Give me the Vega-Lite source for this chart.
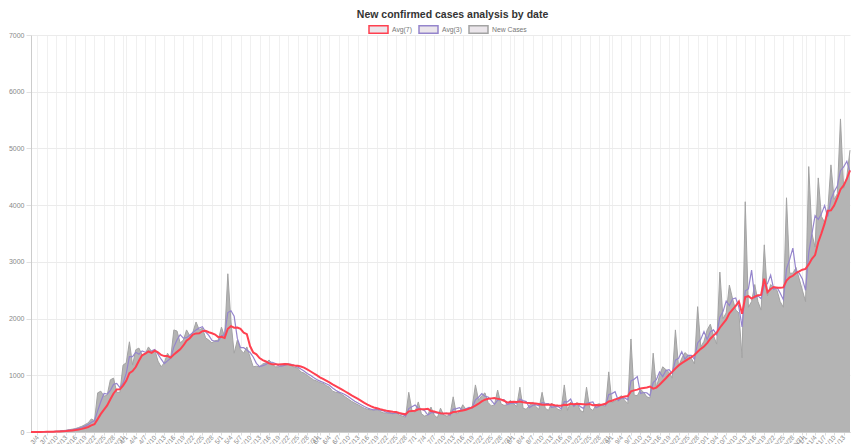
{
"$schema": "https://vega.github.io/schema/vega-lite/v6.json",
"width": 819, "height": 397,
"autosize": {"type": "none"},
"padding": {"left": 31, "top": 35, "right": 2, "bottom": 12},
"background": "white",
"config": {"view": {"stroke": null}, "font": "Liberation Sans",
 "legend": {"orient": "none", "legendX": 337, "legendY": -16, "direction": "horizontal", "title": null, "gridAlign": "none",
  "symbolType": "M-1,-0.4H1V0.4H-1Z", "symbolSize": 361, "labelFontSize": 6.8, "labelColor": "#777777", "columnPadding": 4, "labelOffset": 3, "symbolStrokeWidth": 1.5, "symbolFillColor": "rgba(210,200,210,0.45)"}},
"title": {"text": "New confirmed cases analysis by date", "fontSize": 10.5, "font": "Liberation Sans", "fontWeight": "bold", "color": "#333333", "anchor": "middle", "offset": -1, "dx": 12},
"data": {"format": {"parse": {"d": "date:'%Y-%m-%d'"}}, "values": [
{"d":"2020-03-02","v":0},{"d":"2020-03-03","v":1},{"d":"2020-03-04","v":2},{"d":"2020-03-05","v":3},{"d":"2020-03-06","v":5},{"d":"2020-03-07","v":6},{"d":"2020-03-08","v":8},{"d":"2020-03-09","v":10},{"d":"2020-03-10","v":14},{"d":"2020-03-11","v":18},{"d":"2020-03-12","v":25},{"d":"2020-03-13","v":30},{"d":"2020-03-14","v":40},{"d":"2020-03-15","v":50},{"d":"2020-03-16","v":60},{"d":"2020-03-17","v":80},{"d":"2020-03-18","v":100},{"d":"2020-03-19","v":130},{"d":"2020-03-20","v":160},{"d":"2020-03-21","v":230},{"d":"2020-03-22","v":200},{"d":"2020-03-23","v":690},{"d":"2020-03-24","v":720},{"d":"2020-03-25","v":630},{"d":"2020-03-26","v":650},{"d":"2020-03-27","v":920},{"d":"2020-03-28","v":950},{"d":"2020-03-29","v":700},{"d":"2020-03-30","v":700},{"d":"2020-03-31","v":1180},
{"d":"2020-04-01","v":1220},{"d":"2020-04-02","v":1590},{"d":"2020-04-03","v":1180},{"d":"2020-04-04","v":1450},{"d":"2020-04-05","v":1480},{"d":"2020-04-06","v":1360},{"d":"2020-04-07","v":1380},{"d":"2020-04-08","v":1500},{"d":"2020-04-09","v":1420},{"d":"2020-04-10","v":1450},{"d":"2020-04-11","v":1250},{"d":"2020-04-12","v":1150},{"d":"2020-04-13","v":1220},{"d":"2020-04-14","v":1390},{"d":"2020-04-15","v":1300},{"d":"2020-04-16","v":1800},{"d":"2020-04-17","v":1780},{"d":"2020-04-18","v":1570},{"d":"2020-04-19","v":1620},{"d":"2020-04-20","v":1800},{"d":"2020-04-21","v":1700},{"d":"2020-04-22","v":1760},{"d":"2020-04-23","v":1940},{"d":"2020-04-24","v":1800},{"d":"2020-04-25","v":1830},{"d":"2020-04-26","v":1660},{"d":"2020-04-27","v":1620},{"d":"2020-04-28","v":1570},{"d":"2020-04-29","v":1610},{"d":"2020-04-30","v":1620},
{"d":"2020-05-01","v":1850},{"d":"2020-05-02","v":1680},{"d":"2020-05-03","v":2790},{"d":"2020-05-04","v":1940},{"d":"2020-05-05","v":1390},{"d":"2020-05-06","v":1620},{"d":"2020-05-07","v":1450},{"d":"2020-05-08","v":1390},{"d":"2020-05-09","v":1500},{"d":"2020-05-10","v":1320},{"d":"2020-05-11","v":1150},{"d":"2020-05-12","v":1160},{"d":"2020-05-13","v":1150},{"d":"2020-05-14","v":1200},{"d":"2020-05-15","v":1220},{"d":"2020-05-16","v":1270},{"d":"2020-05-17","v":1200},{"d":"2020-05-18","v":1150},{"d":"2020-05-19","v":1150},{"d":"2020-05-20","v":1180},{"d":"2020-05-21","v":1210},{"d":"2020-05-22","v":1200},{"d":"2020-05-23","v":1170},{"d":"2020-05-24","v":1140},{"d":"2020-05-25","v":1130},{"d":"2020-05-26","v":1060},{"d":"2020-05-27","v":1040},{"d":"2020-05-28","v":1000},{"d":"2020-05-29","v":960},{"d":"2020-05-30","v":920},{"d":"2020-05-31","v":900},
{"d":"2020-06-01","v":870},{"d":"2020-06-02","v":860},{"d":"2020-06-03","v":820},{"d":"2020-06-04","v":790},{"d":"2020-06-05","v":720},{"d":"2020-06-06","v":700},{"d":"2020-06-07","v":690},{"d":"2020-06-08","v":660},{"d":"2020-06-09","v":620},{"d":"2020-06-10","v":580},{"d":"2020-06-11","v":540},{"d":"2020-06-12","v":510},{"d":"2020-06-13","v":480},{"d":"2020-06-14","v":450},{"d":"2020-06-15","v":420},{"d":"2020-06-16","v":400},{"d":"2020-06-17","v":390},{"d":"2020-06-18","v":380},{"d":"2020-06-19","v":420},{"d":"2020-06-20","v":360},{"d":"2020-06-21","v":340},{"d":"2020-06-22","v":330},{"d":"2020-06-23","v":340},{"d":"2020-06-24","v":320},{"d":"2020-06-25","v":350},{"d":"2020-06-26","v":300},{"d":"2020-06-27","v":280},{"d":"2020-06-28","v":260},{"d":"2020-06-29","v":700},{"d":"2020-06-30","v":380},
{"d":"2020-07-01","v":350},{"d":"2020-07-02","v":530},{"d":"2020-07-03","v":320},{"d":"2020-07-04","v":280},{"d":"2020-07-05","v":300},{"d":"2020-07-06","v":440},{"d":"2020-07-07","v":300},{"d":"2020-07-08","v":250},{"d":"2020-07-09","v":420},{"d":"2020-07-10","v":300},{"d":"2020-07-11","v":280},{"d":"2020-07-12","v":300},{"d":"2020-07-13","v":620},{"d":"2020-07-14","v":320},{"d":"2020-07-15","v":350},{"d":"2020-07-16","v":480},{"d":"2020-07-17","v":400},{"d":"2020-07-18","v":420},{"d":"2020-07-19","v":450},{"d":"2020-07-20","v":830},{"d":"2020-07-21","v":560},{"d":"2020-07-22","v":640},{"d":"2020-07-23","v":690},{"d":"2020-07-24","v":520},{"d":"2020-07-25","v":460},{"d":"2020-07-26","v":480},{"d":"2020-07-27","v":740},{"d":"2020-07-28","v":500},{"d":"2020-07-29","v":470},{"d":"2020-07-30","v":480},{"d":"2020-07-31","v":560},
{"d":"2020-08-01","v":500},{"d":"2020-08-02","v":450},{"d":"2020-08-03","v":790},{"d":"2020-08-04","v":420},{"d":"2020-08-05","v":400},{"d":"2020-08-06","v":470},{"d":"2020-08-07","v":530},{"d":"2020-08-08","v":450},{"d":"2020-08-09","v":400},{"d":"2020-08-10","v":700},{"d":"2020-08-11","v":420},{"d":"2020-08-12","v":380},{"d":"2020-08-13","v":510},{"d":"2020-08-14","v":450},{"d":"2020-08-15","v":400},{"d":"2020-08-16","v":380},{"d":"2020-08-17","v":830},{"d":"2020-08-18","v":380},{"d":"2020-08-19","v":530},{"d":"2020-08-20","v":450},{"d":"2020-08-21","v":520},{"d":"2020-08-22","v":380},{"d":"2020-08-23","v":350},{"d":"2020-08-24","v":790},{"d":"2020-08-25","v":420},{"d":"2020-08-26","v":380},{"d":"2020-08-27","v":480},{"d":"2020-08-28","v":500},{"d":"2020-08-29","v":470},{"d":"2020-08-30","v":450},{"d":"2020-08-31","v":1060},
{"d":"2020-09-01","v":520},{"d":"2020-09-02","v":550},{"d":"2020-09-03","v":600},{"d":"2020-09-04","v":640},{"d":"2020-09-05","v":560},{"d":"2020-09-06","v":500},{"d":"2020-09-07","v":1640},{"d":"2020-09-08","v":650},{"d":"2020-09-09","v":640},{"d":"2020-09-10","v":750},{"d":"2020-09-11","v":700},{"d":"2020-09-12","v":620},{"d":"2020-09-13","v":600},{"d":"2020-09-14","v":1390},{"d":"2020-09-15","v":780},{"d":"2020-09-16","v":1000},{"d":"2020-09-17","v":1150},{"d":"2020-09-18","v":1100},{"d":"2020-09-19","v":1050},{"d":"2020-09-20","v":950},{"d":"2020-09-21","v":1800},{"d":"2020-09-22","v":1150},{"d":"2020-09-23","v":1300},{"d":"2020-09-24","v":1400},{"d":"2020-09-25","v":1350},{"d":"2020-09-26","v":1300},{"d":"2020-09-27","v":1200},{"d":"2020-09-28","v":2210},{"d":"2020-09-29","v":1500},{"d":"2020-09-30","v":1600},
{"d":"2020-10-01","v":1800},{"d":"2020-10-02","v":1900},{"d":"2020-10-03","v":1700},{"d":"2020-10-04","v":1550},{"d":"2020-10-05","v":2820},{"d":"2020-10-06","v":2000},{"d":"2020-10-07","v":2100},{"d":"2020-10-08","v":2590},{"d":"2020-10-09","v":2350},{"d":"2020-10-10","v":2150},{"d":"2020-10-11","v":2100},{"d":"2020-10-12","v":1310},{"d":"2020-10-13","v":4060},{"d":"2020-10-14","v":2200},{"d":"2020-10-15","v":2300},{"d":"2020-10-16","v":2600},{"d":"2020-10-17","v":2300},{"d":"2020-10-18","v":2150},{"d":"2020-10-19","v":3300},{"d":"2020-10-20","v":2400},{"d":"2020-10-21","v":2600},{"d":"2020-10-22","v":2550},{"d":"2020-10-23","v":2500},{"d":"2020-10-24","v":2300},{"d":"2020-10-25","v":2200},{"d":"2020-10-26","v":4130},{"d":"2020-10-27","v":2800},{"d":"2020-10-28","v":2800},{"d":"2020-10-29","v":2900},{"d":"2020-10-30","v":2700},{"d":"2020-10-31","v":2500},
{"d":"2020-11-01","v":2300},{"d":"2020-11-02","v":4680},{"d":"2020-11-03","v":3500},{"d":"2020-11-04","v":3260},{"d":"2020-11-05","v":4480},{"d":"2020-11-06","v":3800},{"d":"2020-11-07","v":3700},{"d":"2020-11-08","v":3900},{"d":"2020-11-09","v":4710},{"d":"2020-11-10","v":4100},{"d":"2020-11-11","v":4200},{"d":"2020-11-12","v":5520},{"d":"2020-11-13","v":4300},{"d":"2020-11-14","v":4500},{"d":"2020-11-15","v":4970}
]},
"transform": [
 {"window": [{"op": "mean", "field": "v", "as": "a3"}], "frame": [-2, 0], "sort": [{"field": "d"}]},
 {"window": [{"op": "mean", "field": "v", "as": "a7"}], "frame": [-6, 0], "sort": [{"field": "d"}]}
],
"encoding": {
 "x": {"field": "d", "type": "temporal", "title": null, "scale": {"nice": false},
  "axis": {"format": "%-m/%-d", "tickCount": {"interval": "day", "step": 3}, "labelAngle": -50, "labelFontSize": 6.5, "labelColor": "#888888", "gridColor": "#f0f0f0", "domainColor": "#cccccc", "tickColor": "#dddddd", "tickSize": 3, "labelPadding": 1, "labelFlush": false, "labelOverlap": false}}
},
"layer": [
 {"mark": {"type": "area", "color": "#b4b4b4", "opacity": 1},
  "encoding": {
   "y": {"field": "v", "type": "quantitative", "title": null, "scale": {"domain": [0, 7000], "nice": false},
    "axis": {"values": [0,1000,2000,3000,4000,5000,6000,7000], "format": "d", "labelFontSize": 7, "labelColor": "#888888", "gridColor": "#ebebeb", "domainColor": "#cccccc", "tickColor": "#e0e0e0", "tickSize": 5, "labelPadding": 2}}
  }},
 {"mark": {"type": "line", "strokeWidth": 1},
  "encoding": {"y": {"field": "v", "type": "quantitative", "title": null},
   "color": {"datum": "New Cases", "scale": {"domain": ["Avg(7)", "Avg(3)", "New Cases"], "range": ["#ff4050", "#9585cc", "#a3a3a3"]}}}},
 {"mark": {"type": "line", "strokeWidth": 1.2},
  "encoding": {"y": {"field": "a3", "type": "quantitative", "title": null}, "color": {"datum": "Avg(3)"}}},
 {"mark": {"type": "line", "strokeWidth": 2},
  "encoding": {"y": {"field": "a7", "type": "quantitative", "title": null}, "color": {"datum": "Avg(7)"}}}
]
}
